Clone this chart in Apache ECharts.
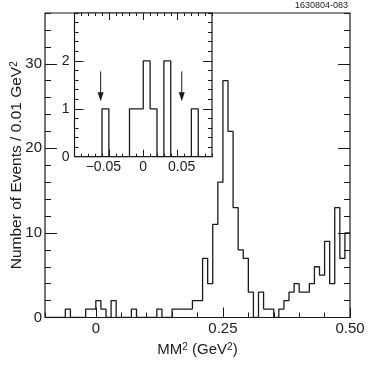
<!DOCTYPE html>
<html>
<head>
<meta charset="utf-8">
<script src="https://cdn.jsdelivr.net/npm/echarts@6/dist/echarts.min.js"></script>
<style>
html, body { margin: 0; padding: 0; background: #fff; }
#main { width: 374px; height: 365px; }
</style>
</head>
<body>
<div id="main"></div>
<script>
// histogram: bins of 0.01 GeV^2 from -0.10 to 0.50
var binStart = -0.1;
var binWidth = 0.01;
var counts = [
  0, 0, 0, 0, 1, 0, 0, 0, 1, 1,
  2, 1, 0, 2, 0, 0, 0, 1, 0, 0,
  0, 0, 1, 0, 0, 1, 1, 1, 1, 2,
  2, 7, 4, 11, 16, 28, 22, 13, 8, 7,
  3, 0, 3, 1, 1, 0, 1, 2, 3, 4,
  3, 3, 4, 6, 5, 9, 4, 13, 7, 10
];
var mainTicksX = [0, 0.25, 0.5];
var mainLabelsX = ['0', '0.25', '0.50'];
var mainTicksY = [0, 10, 20, 30];
var insetRange = [-0.1, 0.1];
var insetTicksX = [-0.05, 0, 0.05];
var insetLabelsX = ['{l|\u22120.05}', '0', '{r|0.05}'];
var insetTicksY = [0, 1, 2];
var arrowX = [-0.062, 0.056];
var arrowTop = 1.78;
var arrowTip = 1.16;

var ink = '#1a1a1a';
var font = 'Liberation Sans';

function stepData(lo, hi) {
  var pts = [];
  var last = 0;
  for (var i = 0; i < counts.length; i++) {
    var x = +(binStart + i * binWidth).toFixed(2);
    if (x >= lo - 1e-9 && x < hi - 1e-9) {
      pts.push([x, counts[i]]);
      last = counts[i];
    }
  }
  pts.push([hi, last]);
  return pts;
}

function pick(vals, labels) {
  return function (v) {
    for (var i = 0; i < vals.length; i++) {
      if (Math.abs(vals[i] - v) < 1e-6) return labels[i];
    }
    return '';
  };
}

function axis(o) {
  var a = {
    type: 'value',
    axisLine: { show: false, onZero: false },
    splitLine: { show: false },
    axisLabel: { show: false },
    axisTick: { show: false }
  };
  for (var k in o) a[k] = o[k];
  return a;
}

function ticks(len, extra) {
  var t = { show: true, inside: true, length: len, lineStyle: { color: ink, width: 1 } };
  for (var k in extra) t[k] = extra[k];
  return t;
}

function labels(extra) {
  var l = { show: true, color: ink, fontFamily: font };
  for (var k in extra) l[k] = extra[k];
  return l;
}

var sup = { fontSize: 10, fontFamily: font, color: ink, verticalAlign: 'top' };

var myChart = echarts.init(document.getElementById('main'));

option = {
  animation: false,
  grid: [
    { left: 45, top: 13, width: 305, height: 304.5, outerBoundsMode: 'none', containLabel: false,
      show: true, borderColor: ink, borderWidth: 1.2, backgroundColor: '#fff' },
    { left: 74.5, top: 13, width: 137.5, height: 143.7, outerBoundsMode: 'none', containLabel: false,
      show: true, borderColor: ink, borderWidth: 1.2, backgroundColor: '#fff' }
  ],
  xAxis: [
    axis({ gridIndex: 0, position: 'bottom', min: -0.1, max: 0.5, interval: 0.05, axisTick: ticks(5) }),
    axis({
      gridIndex: 0, position: 'bottom', min: -0.1, max: 0.5,
      axisTick: ticks(10, { customValues: mainTicksX }),
      axisLabel: labels({ customValues: mainTicksX, formatter: pick(mainTicksX, mainLabelsX), fontSize: 15, margin: 4 }),
      name: 'MM{s|2} (GeV{s|2})', nameLocation: 'middle', nameGap: 25, nameMoveOverlap: false,
      nameTextStyle: { fontSize: 15, fontFamily: font, color: ink, rich: { s: sup } }
    }),
    axis({ gridIndex: 1, position: 'bottom', min: insetRange[0], max: insetRange[1], interval: 0.01, axisTick: ticks(3) }),
    axis({
      gridIndex: 1, position: 'bottom', min: insetRange[0], max: insetRange[1],
      axisTick: ticks(7, { customValues: insetTicksX }),
      axisLabel: labels({
        customValues: insetTicksX, formatter: pick(insetTicksX, insetLabelsX), fontSize: 14, margin: 3,
        rich: {
          l: { fontSize: 14, fontFamily: font, color: ink, padding: [0, 11, 0, 0] },
          r: { fontSize: 14, fontFamily: font, color: ink, padding: [0, 0, 0, 8] }
        }
      })
    }),
    axis({ gridIndex: 1, position: 'top', min: insetRange[0], max: insetRange[1], interval: 0.01, axisTick: ticks(3) }),
    axis({ gridIndex: 1, position: 'top', min: insetRange[0], max: insetRange[1], axisTick: ticks(7, { customValues: insetTicksX }) })
  ],
  yAxis: [
    axis({ gridIndex: 0, position: 'left', min: 0, max: 36, interval: 2, axisTick: ticks(6) }),
    axis({
      gridIndex: 0, position: 'left', min: 0, max: 36,
      axisTick: ticks(12, { customValues: mainTicksY }),
      axisLabel: labels({ customValues: mainTicksY, fontSize: 15, margin: 3 }),
      name: 'Number of Events / 0.01 GeV{s|2}', nameLocation: 'middle', nameRotate: 90, nameGap: 20,
      nameMoveOverlap: false,
      nameTextStyle: { fontSize: 15.5, fontFamily: font, color: ink, rich: { s: sup } }
    }),
    axis({ gridIndex: 0, position: 'right', min: 0, max: 36, interval: 2, axisTick: ticks(6) }),
    axis({ gridIndex: 0, position: 'right', min: 0, max: 36, axisTick: ticks(12, { customValues: mainTicksY }) }),
    axis({ gridIndex: 1, position: 'left', min: 0, max: 3, interval: 0.2, axisTick: ticks(4) }),
    axis({
      gridIndex: 1, position: 'left', min: 0, max: 3,
      axisTick: ticks(9, { customValues: insetTicksY }),
      axisLabel: labels({ customValues: insetTicksY, fontSize: 14, margin: 5 })
    }),
    axis({ gridIndex: 1, position: 'right', min: 0, max: 3, interval: 0.2, axisTick: ticks(4) }),
    axis({ gridIndex: 1, position: 'right', min: 0, max: 3, axisTick: ticks(9, { customValues: insetTicksY }) })
  ],
  graphic: [{
    type: 'text', right: 26, top: 1,
    style: { text: '1630804-083', font: '9px "Liberation Sans"', fill: ink }
  }],
  series: [
    {
      type: 'line', xAxisIndex: 0, yAxisIndex: 0, step: 'end', showSymbol: false, symbol: 'none',
      lineStyle: { color: ink, width: 1.3 },
      data: stepData(binStart, 0.5)
    },
    {
      type: 'line', xAxisIndex: 2, yAxisIndex: 4, step: 'end', showSymbol: false, symbol: 'none',
      lineStyle: { color: ink, width: 1.3 },
      data: stepData(insetRange[0], insetRange[1])
    },
    {
      // arrows marking the signal window in the inset
      type: 'custom', xAxisIndex: 2, yAxisIndex: 4, silent: true,
      data: arrowX.map(function (x) { return [x, arrowTop, arrowTip]; }),
      renderItem: function (params, api) {
        var top = api.coord([api.value(0), api.value(1)]);
        var tip = api.coord([api.value(0), api.value(2)]);
        return {
          type: 'group',
          children: [
            { type: 'line', shape: { x1: top[0], y1: top[1], x2: tip[0], y2: tip[1] - 6 },
              style: { stroke: ink, lineWidth: 1 } },
            { type: 'polygon', shape: { points: [[tip[0] - 3, tip[1] - 9], [tip[0] + 3, tip[1] - 9], [tip[0], tip[1]]] },
              style: { fill: ink } }
          ]
        };
      }
    }
  ]
};

myChart.setOption(option);
</script>
</body>
</html>
